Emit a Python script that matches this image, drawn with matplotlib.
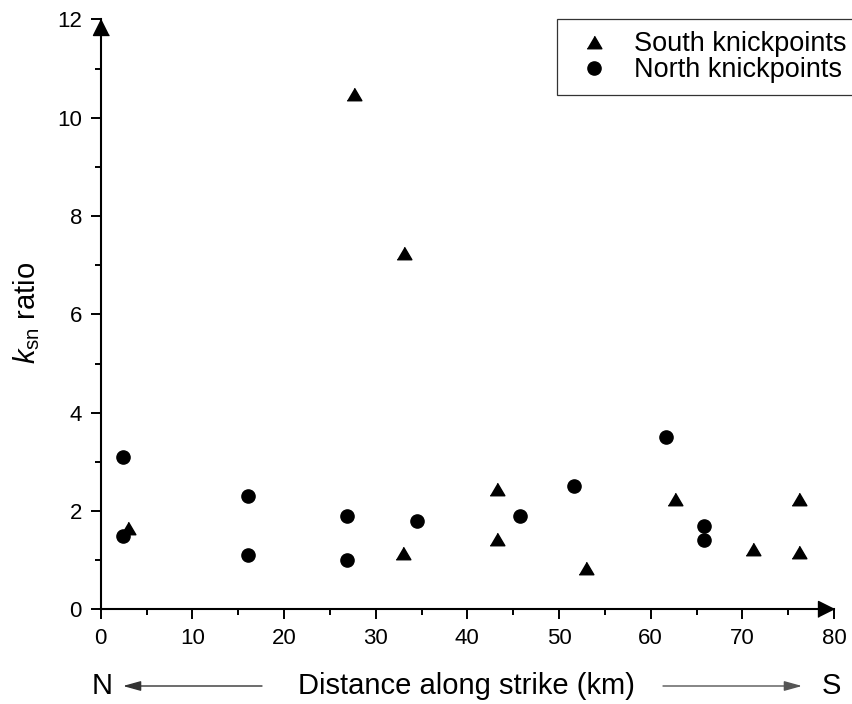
import matplotlib

matplotlib.use("Agg")
import matplotlib.pyplot as plt
from matplotlib.patches import FancyArrowPatch
from matplotlib.ticker import MultipleLocator

plt.rcParams["font.family"] = ["Liberation Sans", "DejaVu Sans"]
plt.rcParams["mathtext.fontset"] = "custom"
plt.rcParams["mathtext.rm"] = "Liberation Sans"
plt.rcParams["mathtext.it"] = "Liberation Sans:italic"

# knickpoint positions along strike (km) and ksn ratios
south_x = [2.98, 27.66, 33.08, 33.0, 43.2, 43.2, 52.94, 62.65, 71.2, 76.2, 76.2]
south_y = [1.65, 10.49, 7.24, 1.14, 2.44, 1.44, 0.85, 2.24, 1.22, 2.24, 1.17]

north_x = [2.4, 2.4, 16.1, 16.1, 26.9, 26.9, 34.5, 45.7, 51.6, 61.7, 65.8, 65.8]
north_y = [3.10, 1.50, 2.30, 1.10, 1.90, 1.00, 1.80, 1.90, 2.51, 3.51, 1.70, 1.41]

x_ticks = [0, 10, 20, 30, 40, 50, 60, 70, 80]
y_ticks = [0, 2, 4, 6, 8, 10, 12]

W, H = 853, 704
fig = plt.figure(figsize=(W / 100, H / 100), dpi=100)
ax = fig.add_axes([100.7 / W, 1 - 609.3 / H, (834 - 100.7) / W, (609.3 - 19.4) / H])

tri = [(-1, -0.85), (1, -0.85), (0, 0.85)]
hs = ax.plot(south_x, south_y, ls="none", marker=tri, ms=10.6, color="black",
             zorder=4, clip_on=False, label="South knickpoints")[0]
hn = ax.plot(north_x, north_y, ls="none", marker="o", ms=9.5, color="black",
             zorder=3, clip_on=False, label="North knickpoints")[0]

ax.set_xlim(0, 80)
ax.set_ylim(0, 12)
ax.set_xticks(x_ticks)
ax.set_yticks(y_ticks)
ax.xaxis.set_minor_locator(MultipleLocator(5))
ax.yaxis.set_minor_locator(MultipleLocator(1))
ax.tick_params(which="major", length=7.5, width=1.4, labelsize=16, pad=6)
ax.tick_params(which="minor", length=4.3, width=1.4)

for side in ("top", "right"):
    ax.spines[side].set_visible(False)
for side in ("left", "bottom"):
    ax.spines[side].set_linewidth(1.5)

# arrow heads at the ends of both axes, tips at the axis limits
right_head = [(0, 0), (-1, 0.5), (-1, -0.5)]
up_head = [(0, 0), (-0.5, -1), (0.5, -1)]
ax.plot([1], [0], marker=right_head, ms=23, color="black", ls="none",
        transform=ax.transAxes, clip_on=False, zorder=5)
ax.plot([0], [1], marker=up_head, ms=23, color="black", ls="none",
        transform=ax.transAxes, clip_on=False, zorder=5)

fig.text(27 / W, 1 - 313 / H, r"$k_{\mathrm{sn}}$ ratio", rotation=90,
         ha="center", va="center", fontsize=21)

# along-strike label with N / S direction arrows
y_lab = 1 - 686 / H
fig.text(466 / W, y_lab, "Distance along strike (km)", ha="center", va="center", fontsize=21)
fig.text(102.5 / W, y_lab, "N", ha="center", va="center", fontsize=21)
fig.text(831 / W, y_lab, "S", ha="center", va="center", fontsize=21)
for x0, x1, col in [(262, 123, "#333333"), (663, 802, "#555555")]:
    fig.add_artist(FancyArrowPatch(
        (x0 / W, y_lab), (x1 / W, y_lab), transform=fig.transFigure,
        arrowstyle="-|>,head_length=1.08,head_width=0.3", mutation_scale=10,
        color=col, lw=1.0, shrinkA=0, shrinkB=0))

leg = ax.legend(handles=[hs, hn], loc="upper left",
                bbox_to_anchor=(557 / W, 1 - 19 / H), bbox_transform=fig.transFigure,
                borderaxespad=0, fontsize=19.5, fancybox=False, framealpha=1,
                edgecolor="#333333", borderpad=0.45, handlelength=1.8,
                handletextpad=0.6, labelspacing=0.0)
leg.get_frame().set_linewidth(0.9)

fig.savefig("out.png", dpi=100)
